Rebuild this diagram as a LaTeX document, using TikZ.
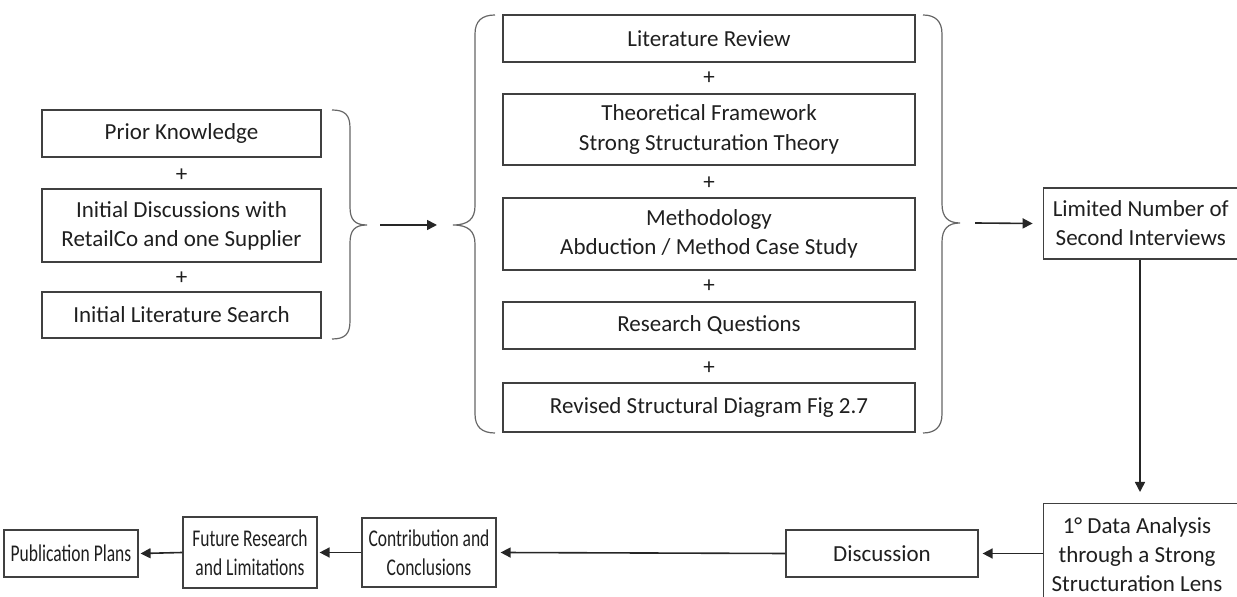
\documentclass[tikz,border=0pt]{standalone}
\usepackage{fontspec}
\setmainfont{Carlito}
\newfontfamily\narrowfont[FakeStretch=0.73]{Carlito}
\usetikzlibrary{arrows.meta}
\begin{document}
\begin{tikzpicture}[x=0.5pt,y=-0.5pt,
  box/.style={draw=black!75,line width=0.6pt,inner sep=0pt,align=center,text=black!88,
              font=\fontsize{11.5}{14.5}\selectfont},
  narrowbox/.style={box,font=\narrowfont\fontsize{12}{14.5}\selectfont},
  plus/.style={inner sep=0pt,text=black!88,font=\fontsize{11.5}{14.5}\selectfont},
  brace/.style={draw=black!60,line width=0.6pt},
  flow/.style={draw=black!85,line width=0.8pt,-{Triangle[length=5pt,width=5pt]}}]
\useasboundingbox (0,0) rectangle (1237,597);

% inputs
\node[box,minimum width=139.5pt,minimum height=23.5pt] (prior)  at (181.5,133.5) {Prior Knowledge};
\node[plus] (p1) at (181.5,175) {+};
\node[box,minimum width=139.5pt,minimum height=36.5pt] (disc)   at (181.5,225.5) {Initial Discussions with\\RetailCo and one Supplier};
\node[plus] (p2) at (181.5,278) {+};
\node[box,minimum width=139.5pt,minimum height=23pt]   (search) at (181.5,315) {Initial Literature Search};

% left brace
\draw[brace] (332,110) .. controls (345,110) and (350,115) .. (350,128) -- (350,207)
  .. controls (350,220) and (355,225) .. (367,225)
  .. controls (355,225) and (350,230) .. (350,243) -- (350,321)
  .. controls (350,334) and (345,339) .. (332,339);
\coordinate (lbtip) at (367,225);

% research design
\node[box,minimum width=206pt,minimum height=23.5pt] (litrev) at (709,38.5) {Literature Review};
\node[plus] (p3) at (709,78) {+};
\node[box,minimum width=206pt,minimum height=35.5pt] (theory) at (709,129.5) {Theoretical Framework\\Strong Structuration Theory};
\node[plus] (p4) at (709,183) {+};
\node[box,minimum width=206pt,minimum height=36pt]   (method) at (709,234) {Methodology\\Abduction / Method Case Study};
\node[plus] (p5) at (709,286) {+};
\node[box,minimum width=206pt,minimum height=23.5pt] (rq)     at (709,325.5) {Research Questions};
\node[plus] (p6) at (709,368) {+};
\node[box,minimum width=206pt,minimum height=24.5pt] (rev)    at (709,407.5) {Revised Structural Diagram Fig 2.7};

% middle braces
\draw[brace] (495,15) .. controls (482,15) and (475,21) .. (475,34) -- (475,206)
  .. controls (475,219) and (468,225) .. (453,225)
  .. controls (468,225) and (475,231) .. (475,244) -- (475,414)
  .. controls (475,427) and (482,433) .. (495,433);
\coordinate (mbtip) at (453,225);
\draw[brace] (923,15) .. controls (935,15) and (942,21) .. (942,34) -- (942,204)
  .. controls (942,217) and (948,223) .. (960,223)
  .. controls (948,223) and (942,229) .. (942,242) -- (942,414)
  .. controls (942,427) and (935,433) .. (923,433);
\coordinate (rbtip) at (960,223);

% follow-up and analysis
\node[box,minimum width=97.5pt,minimum height=35.5pt] (limited) at (1140.75,223.5) {Limited Number of\\Second Interviews};
\node[box,minimum width=97.5pt,minimum height=52pt,anchor=north] (data) at (1140.75,503) {};
\node[text=black!88,font=\fontsize{11.5}{14.5}\selectfont,align=center,inner sep=0pt] (datatext) at (1137,555) {1° Data Analysis\\through a Strong\\Structuration Lens};

% outcomes
\node[box,minimum width=96pt,minimum height=23.5pt] (discn)   at (882,553.5) {Discussion};
\node[narrowbox,minimum width=67pt,minimum height=34.5pt] (contrib) at (429,552.5) {Contribution and\\Conclusions};
\node[narrowbox,minimum width=67pt,minimum height=35.5pt] (future)  at (250,552.5) {Future Research\\and Limitations};
\node[narrowbox,minimum width=67pt,minimum height=23.5pt] (pub)     at (71,553.5) {Publication Plans};

% connectors
\draw[flow] ([xshift=6.5pt]lbtip) -- ([xshift=-8pt]mbtip);
\draw[flow] ([xshift=7.5pt]rbtip) -- ([xshift=-5pt]limited.west);
\draw[flow] (limited.south -| 1140,0) -- (1140,492) coordinate (dtop);
\draw[flow] (data.west |- discn.east) -- ([xshift=2pt]discn.east);
\draw[flow] (discn.west) -- ([xshift=2pt]contrib.east);
\draw[flow] (contrib.west) -- ([xshift=1pt]future.east);
\draw[flow] (future.west) -- ([xshift=1pt]pub.east);
\end{tikzpicture}
\end{document}
